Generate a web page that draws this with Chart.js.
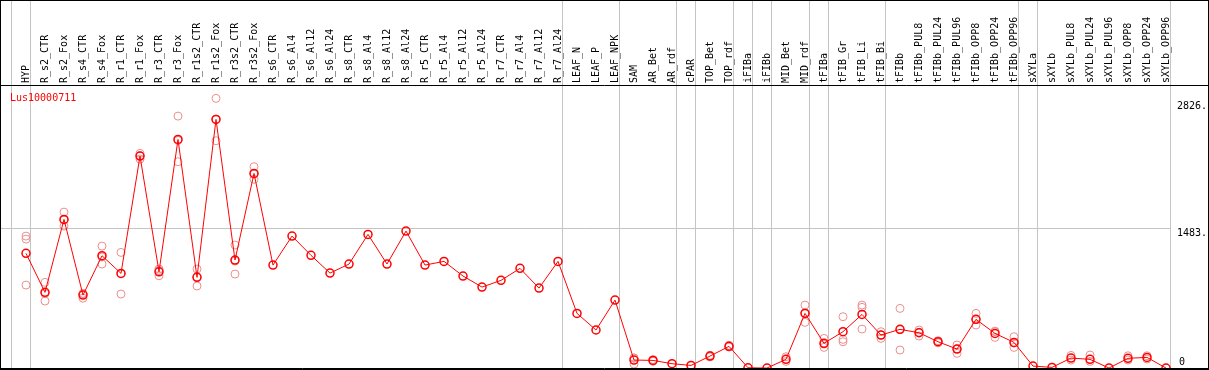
<!DOCTYPE html>
<html>
<head>
<meta charset="utf-8">
<script src="https://cdn.jsdelivr.net/npm/chart.js@4"></script>
<style>
  body { margin: 0; background: #fff; }
  canvas { display: block; }
</style>
</head>
<body>
<canvas id="expr" width="1209" height="370"></canvas>
<script>
// Kategorien (Spaltenköpfe)
const categories = ['HYP', 'R_s2_CTR', 'R_s2_Fox', 'R_s4_CTR', 'R_s4_Fox', 'R_r1_CTR', 'R_r1_Fox',
  'R_r3_CTR', 'R_r3_Fox', 'R_r1s2_CTR', 'R_r1s2_Fox', 'R_r3s2_CTR', 'R_r3s2_Fox',
  'R_s6_CTR', 'R_s6_Al4', 'R_s6_Al12', 'R_s6_Al24', 'R_s8_CTR', 'R_s8_Al4', 'R_s8_Al12', 'R_s8_Al24',
  'R_r5_CTR', 'R_r5_Al4', 'R_r5_Al12', 'R_r5_Al24', 'R_r7_CTR', 'R_r7_Al4', 'R_r7_Al12', 'R_r7_Al24',
  'LEAF_N', 'LEAF_P', 'LEAF_NPK', 'SAM', 'AR_Bet', 'AR_rdf', 'cPAR', 'TOP_Bet', 'TOP_rdf',
  'iFIBa', 'iFIBb', 'MID_Bet', 'MID_rdf', 'tFIBa', 'tFIB_Gr', 'tFIB_Li', 'tFIB_Bi', 'tFIBb',
  'tFIBb_PUL8', 'tFIBb_PUL24', 'tFIBb_PUL96', 'tFIBb_OPP8', 'tFIBb_OPP24', 'tFIBb_OPP96',
  'sXYLa', 'sXYLb', 'sXYLb_PUL8', 'sXYLb_PUL24', 'sXYLb_PUL96', 'sXYLb_OPP8', 'sXYLb_OPP24', 'sXYLb_OPP96'];

// Mittelwerte
const meanValues = [1215, 802, 1575, 773, 1190, 1003, 2246, 1020, 2422, 961, 2634, 1144, 2062,
  1091, 1398, 1194, 1006, 1102, 1416, 1102, 1451, 1091, 1130, 975, 858, 929, 1056, 847, 1130,
  579, 403, 720, 85, 81, 46, 28, 127, 230, 3, 0, 92, 579, 262, 385, 568, 350, 410,
  374, 279, 201, 516, 367, 272, 21, 7, 106, 92, 0, 103, 113, 0];

// Replikate
const rep1 = [1398, 908, 1652, 790, 1292, 1225, 2274, 1049, 2669, 1049, 2857, 1303, 2133,
  null, null, null, null, null, null, null, null, null, null, null, null, null, null, null, null,
  null, null, null, 106, 90, null, null, 135, 240, null, null, 120, 667, 314, 544, 667, 385, 632,
  403, 290, 244, 579, 385, 332, null, null, 134, 138, null, 130, 130, null];
const rep2 = [1366, 710, 1504, 740, 1102, 784, 2214, 978, 2186, 869, 2408, 996, 1999,
  null, null, null, null, null, null, null, null, null, null, null, null, null, null, null, null,
  null, null, null, 42, 72, null, null, 118, 222, null, null, 70, 484, 219, 304, 643, 314, 191,
  339, 268, 156, 456, 325, 219, null, null, 85, 70, null, 85, 95, null];
const rep3 = [879, 788, 1569, 789, 1176, 1000, 2250, 1033, 2411, 965, 2637, 1133, 2054,
  null, null, null, null, null, null, null, null, null, null, null, null, null, null, null, null,
  null, null, null, 107, 81, null, null, null, null, null, null, null, 586, 253, 279, 413, 350, 407,
  380, 279, 203, 513, 391, 265, null, null, null, null, null, null, null, null];

// Achsenbeschriftung rechts
const yTicks = [2826, 1483, 0];
const yTickLabels = ['2826.', '1483.', '0'];
// Gruppengrenzen (Linie nach diesem Index)
const groupEnds = [-1, 0, 28, 31, 34, 35, 37, 38, 39, 41, 42, 45, 52, 53, 60];
const title = 'Lus10000711';

const FONT = '10px "DejaVu Sans Mono", "Liberation Mono", monospace';

const decor = {
  id: 'decor',
  beforeDatasetsDraw(chart) {
    const ctx = chart.ctx;
    const xs = chart.scales.x, ys = chart.scales.y;
    const step = xs.getPixelForValue(1) - xs.getPixelForValue(0);
    ctx.save();
    ctx.strokeStyle = '#c4c4c4';
    ctx.lineWidth = 1;
    let lastX = 0;
    groupEnds.forEach(i => {
      const x = Math.floor(xs.getPixelForValue(0) + i * step + 4.5) + 0.5;
      lastX = x;
      ctx.beginPath();
      ctx.moveTo(x, 0);
      ctx.lineTo(x, chart.height);
      ctx.stroke();
    });
    const yh = Math.floor(ys.getPixelForValue(yTicks[1])) + 0.5;
    ctx.beginPath();
    ctx.moveTo(0, yh);
    ctx.lineTo(lastX, yh);
    ctx.stroke();
    ctx.restore();
  },
  afterDraw(chart) {
    const ctx = chart.ctx;
    const xs = chart.scales.x, ys = chart.scales.y;
    ctx.save();
    // Rahmen
    ctx.strokeStyle = '#000';
    ctx.lineWidth = 1;
    ctx.strokeRect(0.5, 0.5, chart.width - 1, chart.height - 1);
    ctx.beginPath();
    ctx.moveTo(0, 85.5);
    ctx.lineTo(chart.width, 85.5);
    ctx.moveTo(0, chart.height - 1.5);
    ctx.lineTo(chart.width, chart.height - 1.5);
    ctx.stroke();

    // Spaltenköpfe
    ctx.font = FONT;
    ctx.fillStyle = '#000';
    ctx.textAlign = 'left';
    ctx.textBaseline = 'alphabetic';
    categories.forEach((c, i) => {
      const x = xs.getPixelForValue(i);
      ctx.save();
      ctx.translate(x, 83);
      ctx.rotate(-Math.PI / 2);
      ctx.fillText(c, 0, 3);
      ctx.restore();
    });

    // Titel
    ctx.fillStyle = '#ff0000';
    ctx.fillText(title, 10, 101);

    // y-Beschriftung
    ctx.fillStyle = '#000';
    yTicks.forEach((v, k) => {
      const y = ys.getPixelForValue(v);
      if (v === 0) {
        ctx.textBaseline = 'bottom';
        ctx.fillText(yTickLabels[k], 1179, y - 1);
      } else {
        ctx.textBaseline = 'top';
        ctx.fillText(yTickLabels[k], 1177, y);
      }
    });
    ctx.restore();
  }
};

const repStyle = {
  showLine: false,
  pointStyle: 'circle',
  pointRadius: 4,
  pointBorderWidth: 1,
  pointBorderColor: '#ec8f8f',
  pointBackgroundColor: 'rgba(0,0,0,0)',
  order: 1
};

new Chart(document.getElementById('expr').getContext('2d'), {
  type: 'line',
  data: {
    labels: categories,
    datasets: [
      {
        label: 'Mittelwert',
        data: meanValues,
        borderColor: '#ff0000',
        borderWidth: 1,
        pointRadius: 4,
        pointBorderWidth: 1.5,
        pointBorderColor: '#ff0000',
        pointBackgroundColor: 'rgba(0,0,0,0)',
        tension: 0,
        order: 0
      },
      Object.assign({ label: 'rep1', data: rep1 }, repStyle),
      Object.assign({ label: 'rep2', data: rep2 }, repStyle),
      Object.assign({ label: 'rep3', data: rep3 }, repStyle)
    ]
  },
  options: {
    responsive: false,
    animation: false,
    layout: { autoPadding: false, padding: { left: 16.5, right: 33.5, top: 86, bottom: 1 } },
    scales: {
      x: { display: false, offset: true },
      y: { display: false, min: -10, max: 2988 }
    },
    plugins: {
      legend: { display: false },
      tooltip: { enabled: false }
    }
  },
  plugins: [decor]
});
</script>
</body>
</html>
